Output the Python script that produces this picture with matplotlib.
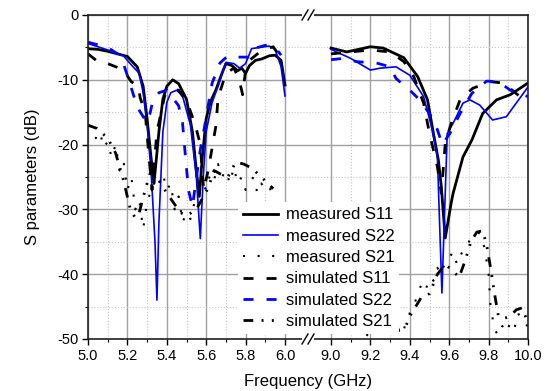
import matplotlib
matplotlib.use("Agg")
import matplotlib.pyplot as plt
import numpy as np
from matplotlib.lines import Line2D
from matplotlib.patches import Rectangle

plt.rcParams['font.family'] = ['Liberation Sans', 'DejaVu Sans']

# ---- data (GHz, dB) ----
f_s11m_l = [5.00, 5.05, 5.10, 5.15, 5.20, 5.25, 5.28, 5.30, 5.32, 5.335, 5.36, 5.38, 5.40, 5.43, 5.46, 5.50,
            5.53, 5.55, 5.565, 5.58, 5.60, 5.62, 5.65, 5.68, 5.70, 5.73, 5.76, 5.78, 5.80, 5.82, 5.85, 5.88,
            5.92, 5.95, 5.98, 6.00]
s11m_l = [-5.2, -5.3, -5.6, -6.0, -6.4, -8.0, -11, -16, -22, -26, -18, -13, -11, -10, -10.6, -13,
          -18, -24, -28, -22, -16, -13.5, -11.5, -9, -7.5, -7.8, -8.6, -8.2, -9.0, -7.8, -7.0, -6.8,
          -6.3, -6.2, -7.0, -10.8]
f_s11m_r = [9.00, 9.08, 9.20, 9.265, 9.37, 9.44, 9.49, 9.52, 9.545, 9.56, 9.58, 9.61, 9.62, 9.67, 9.715,
            9.77, 9.84, 9.91, 10.00]
s11m_r = [-5.1, -5.7, -4.9, -5.1, -6.6, -9.5, -13.1, -18.3, -22.4, -26.5, -34.4, -29, -27.5, -21.9, -19.3,
          -15.2, -13.1, -12.3, -10.5]

f_s22m_l = [5.00, 5.10, 5.18, 5.22, 5.26, 5.28, 5.30, 5.32, 5.34, 5.35, 5.36, 5.38, 5.40, 5.42, 5.45, 5.48,
            5.52, 5.55, 5.57, 5.585, 5.60, 5.63, 5.66, 5.70, 5.74, 5.77, 5.80, 5.83, 5.87, 5.92, 5.95, 5.98, 6.00]
s22m_l = [-4.4, -5.4, -6.3, -7.7, -9, -12, -17, -24, -35, -44, -32, -18, -13.5, -12, -11.6, -12.5,
          -17, -25, -34.5, -25, -18, -13.5, -11, -7.3, -7.5, -8.2, -7.5, -5.2, -5.0, -4.8, -5.3, -8, -12.5]
f_s22m_r = [9.00, 9.10, 9.20, 9.25, 9.33, 9.40, 9.47, 9.51, 9.54, 9.563, 9.59, 9.62, 9.67, 9.705, 9.755,
            9.82, 9.89, 9.94, 10.00]
s22m_r = [-5.3, -6.7, -8.5, -8.2, -8.0, -9.3, -12.6, -17.2, -21.8, -42.9, -18.3, -16.7, -13.6, -13.1, -13.9,
          -16.2, -15.7, -13.6, -11.1]

f_s21m_l = [5.00, 5.02, 5.04, 5.06, 5.08, 5.10, 5.12, 5.14, 5.16, 5.18, 5.20, 5.22, 5.24, 5.26, 5.28, 5.30,
            5.32, 5.34, 5.36, 5.38, 5.40, 5.42, 5.44, 5.46, 5.48, 5.50, 5.52, 5.54, 5.56, 5.58, 5.60, 5.62,
            5.64, 5.66, 5.68, 5.70, 5.72, 5.74, 5.76, 5.78, 5.80, 5.82, 5.84, 5.86, 5.88, 5.90, 5.92, 5.94]
s21m_l = [-17, -17.5, -19, -18, -20.5, -19.5, -22, -20, -24, -22.5, -27, -25, -30, -28.5, -33, -29,
          -27, -25, -26, -24.5, -27, -26, -30, -28, -32, -30.5, -31.5, -29, -28, -26, -27, -24.5,
          -25.5, -23, -25, -24, -26, -23.5, -26, -25, -27, -26, -25, -27.5, -26, -27, -26.5, -28]
f_s21m_r = [9.18, 9.21, 9.24, 9.27, 9.30, 9.33, 9.36, 9.38, 9.40, 9.42, 9.44, 9.46, 9.48, 9.50, 9.52, 9.54,
            9.56, 9.58, 9.60, 9.62, 9.64, 9.66, 9.68, 9.70, 9.72, 9.74, 9.76, 9.78, 9.80, 9.81, 9.83, 9.85,
            9.87, 9.89, 9.91, 9.93, 9.95, 9.97, 10.00]
s21m_r = [-49.5, -48.5, -49, -48.3, -49, -48, -49.5, -47.5, -46, -45, -43, -41.5, -42.5, -40.5, -41, -39,
          -40, -38, -37.5, -36.5, -38.5, -37, -35.5, -35, -34, -33.5, -33.8, -36, -40, -45, -48.5, -49.5,
          -48, -49, -47.5, -48.5, -46, -47.5, -48]

f_s11s_l = [5.00, 5.05, 5.10, 5.15, 5.18, 5.22, 5.255, 5.265, 5.29, 5.31, 5.325, 5.35, 5.39, 5.43, 5.46,
            5.505, 5.545, 5.57, 5.587, 5.61, 5.65, 5.66, 5.70, 5.74, 5.765, 5.785, 5.80, 5.82, 5.88, 5.94, 5.97]
s11s_l = [-6.0, -7.2, -7.5, -8.1, -8.5, -10.3, -11, -12.8, -15, -22, -27, -18, -12.4, -11.5, -11.6,
          -13.6, -17, -20, -27, -24, -17, -12.8, -9, -8.2, -9.7, -12.3, -8.5, -7.0, -5.5, -4.9, -6.2]
f_s11s_r = [9.00, 9.10, 9.20, 9.30, 9.37, 9.42, 9.47, 9.50, 9.54, 9.56, 9.58, 9.605, 9.655, 9.72, 9.81,
            9.875, 10.00]
s11s_r = [-6.0, -5.7, -5.4, -5.7, -7.2, -9.5, -13.6, -18.3, -23.4, -27.5, -19.8, -17.2, -13.1, -11.3, -10.3,
          -10.5, -13.6]

f_s22s_l = [5.00, 5.05, 5.10, 5.15, 5.18, 5.215, 5.25, 5.29, 5.305, 5.33, 5.36, 5.40, 5.46, 5.48, 5.495,
            5.51, 5.53, 5.546, 5.57, 5.59, 5.63, 5.67, 5.71, 5.75, 5.815, 5.85, 5.91, 5.96, 5.98]
s22s_l = [-4.2, -4.6, -5.0, -6.0, -7.5, -10.8, -14.2, -16.2, -16.5, -13.1, -12, -11.6, -14, -16.7, -22,
          -27, -29.6, -26, -20.8, -17.5, -10.5, -7.4, -6.3, -6.5, -6.5, -5.1, -4.6, -5.4, -6.2]
f_s22s_r = [9.00, 9.06, 9.13, 9.23, 9.30, 9.33, 9.40, 9.45, 9.50, 9.54, 9.565, 9.605, 9.655, 9.715, 9.79,
            9.85, 9.91, 10.00]
s22s_r = [-6.9, -6.7, -7.2, -7.4, -8.0, -9.8, -11.6, -13.1, -15.2, -17.7, -20, -18.2, -15.2, -12.1, -10.2,
          -10.3, -11.6, -12.6]

f_s21s_l = [5.00, 5.045, 5.10, 5.14, 5.18, 5.215, 5.24, 5.26, 5.29, 5.32, 5.35, 5.39, 5.43, 5.47, 5.50,
            5.55, 5.61, 5.64, 5.67, 5.71, 5.75, 5.79, 5.83, 5.88, 5.94]
s21s_l = [-17, -17.5, -19, -21.3, -25.5, -30, -31.3, -30.5, -27, -24, -25, -27, -28.8, -30.5, -31,
          -30, -26.7, -24, -24.5, -25, -22.7, -23, -23.6, -25, -26.8]
f_s21s_r = [9.30, 9.34, 9.38, 9.40, 9.43, 9.46, 9.50, 9.52, 9.54, 9.58, 9.62, 9.65, 9.68, 9.71, 9.74,
            9.77, 9.79, 9.81, 9.83, 9.85, 9.88, 9.91, 9.94, 9.97, 10.00]
s21s_r = [-48.8, -48.5, -48, -46.5, -45, -43.5, -43, -41.5, -40, -38.5, -39.5, -40.5, -38, -35, -33.5,
          -33.3, -35.5, -39, -43, -46.5, -46.8, -46.5, -45.5, -45.2, -47.5]

xticks_l = [5.0, 5.2, 5.4, 5.6, 5.8, 6.0]
xticks_r = [9.0, 9.2, 9.4, 9.6, 9.8, 10.0]
yticks = [0, -10, -20, -30, -40, -50]

GAP = 46 / 197.0


def tx(f):
    f = np.asarray(f, dtype=float)
    return np.where(f < 7.5, f - 5.0, f - 9.0 + 1.0 + GAP)


W, H = 548, 391
fig = plt.figure(figsize=(W / 100, H / 100), dpi=100)
ax = fig.add_axes([88 / W, 1 - 339 / H, 440 / W, 324 / H])

dash = (0, (3.6, 4.7))
dot = (0, (1, 6))
dashdotdot = (0, (3.5, 3, 0.7, 3, 0.7, 3))

series = [
    (f_s11m_l, s11m_l, f_s11m_r, s11m_r, dict(color='black', lw=2.0, ls='-'), 'measured S11'),
    (f_s22m_l, s22m_l, f_s22m_r, s22m_r, dict(color='#0000ff', lw=1.2, ls='-'), 'measured S22'),
    (f_s21m_l, s21m_l, f_s21m_r, s21m_r, dict(color='black', lw=1.5, ls=dot), 'measured S21'),
    (f_s11s_l, s11s_l, f_s11s_r, s11s_r, dict(color='black', lw=2.0, ls=dash), 'simulated S11'),
    (f_s22s_l, s22s_l, f_s22s_r, s22s_r, dict(color='#0000ff', lw=2.0, ls=dash), 'simulated S22'),
    (f_s21s_l, s21s_l, f_s21s_r, s21s_r, dict(color='black', lw=2.0, ls=dashdotdot), 'simulated S21'),
]
for fl, yl, fr, yr, st, lab in series:
    ax.plot(tx(fl), yl, label=lab, **st)
    ax.plot(tx(fr), yr, **st)

ax.set_xlim(0, 2 + GAP)
ax.set_ylim(-50, 0)
major = list(xticks_l) + list(xticks_r)
ax.set_xticks(tx(major))
ax.set_xticklabels([f"{v:.1f}" for v in major])
minor = [v + 0.1 for v in xticks_l[:-1]] + [v + 0.1 for v in xticks_r[:-1]]
ax.set_xticks(tx(minor), minor=True)
ax.set_yticks(yticks)
ax.set_yticklabels([str(v) for v in yticks])
ax.set_yticks([-5, -15, -25, -35, -45], minor=True)
ax.tick_params(axis='both', which='major', direction='out', length=4, width=1, labelsize=10.5, pad=3)
ax.tick_params(axis='both', which='minor', direction='out', length=2.5, width=0.8)
ax.grid(True, which='major', color='#a0a0a0', lw=1.0, ls='-')
ax.grid(True, which='minor', color='#c8c8c8', lw=0.8, ls=':')
ax.set_axisbelow(True)
for sp in ax.spines.values():
    sp.set_linewidth(1.2)
    sp.set_color('#222222')

ax.set_xlabel('Frequency (GHz)', fontsize=12, labelpad=8)
ax.set_ylabel('S parameters (dB)', fontsize=12, labelpad=12)

leg = ax.legend(loc='lower left', bbox_to_anchor=(0.341, 0.015), borderaxespad=0,
                fontsize=12, handlelength=2.1, handletextpad=0.45, labelspacing=0.38,
                borderpad=0.3, fancybox=False, framealpha=1, facecolor='white', edgecolor='none')
leg.set_zorder(5)

# axis break marks
for py in (15, 339):
    cx = 308
    fig.add_artist(Rectangle(((cx - 6) / W, 1 - (py + 2) / H), 12 / W, 4 / H,
                             transform=fig.transFigure, facecolor='white', edgecolor='none', zorder=10))
    for dx in (-3, 3):
        fig.add_artist(Line2D([(cx + dx - 3) / W, (cx + dx + 3) / W],
                              [1 - (py + 5) / H, 1 - (py - 5) / H],
                              transform=fig.transFigure, color='black', lw=1.0, zorder=11))

fig.savefig('out.png', dpi=100)
